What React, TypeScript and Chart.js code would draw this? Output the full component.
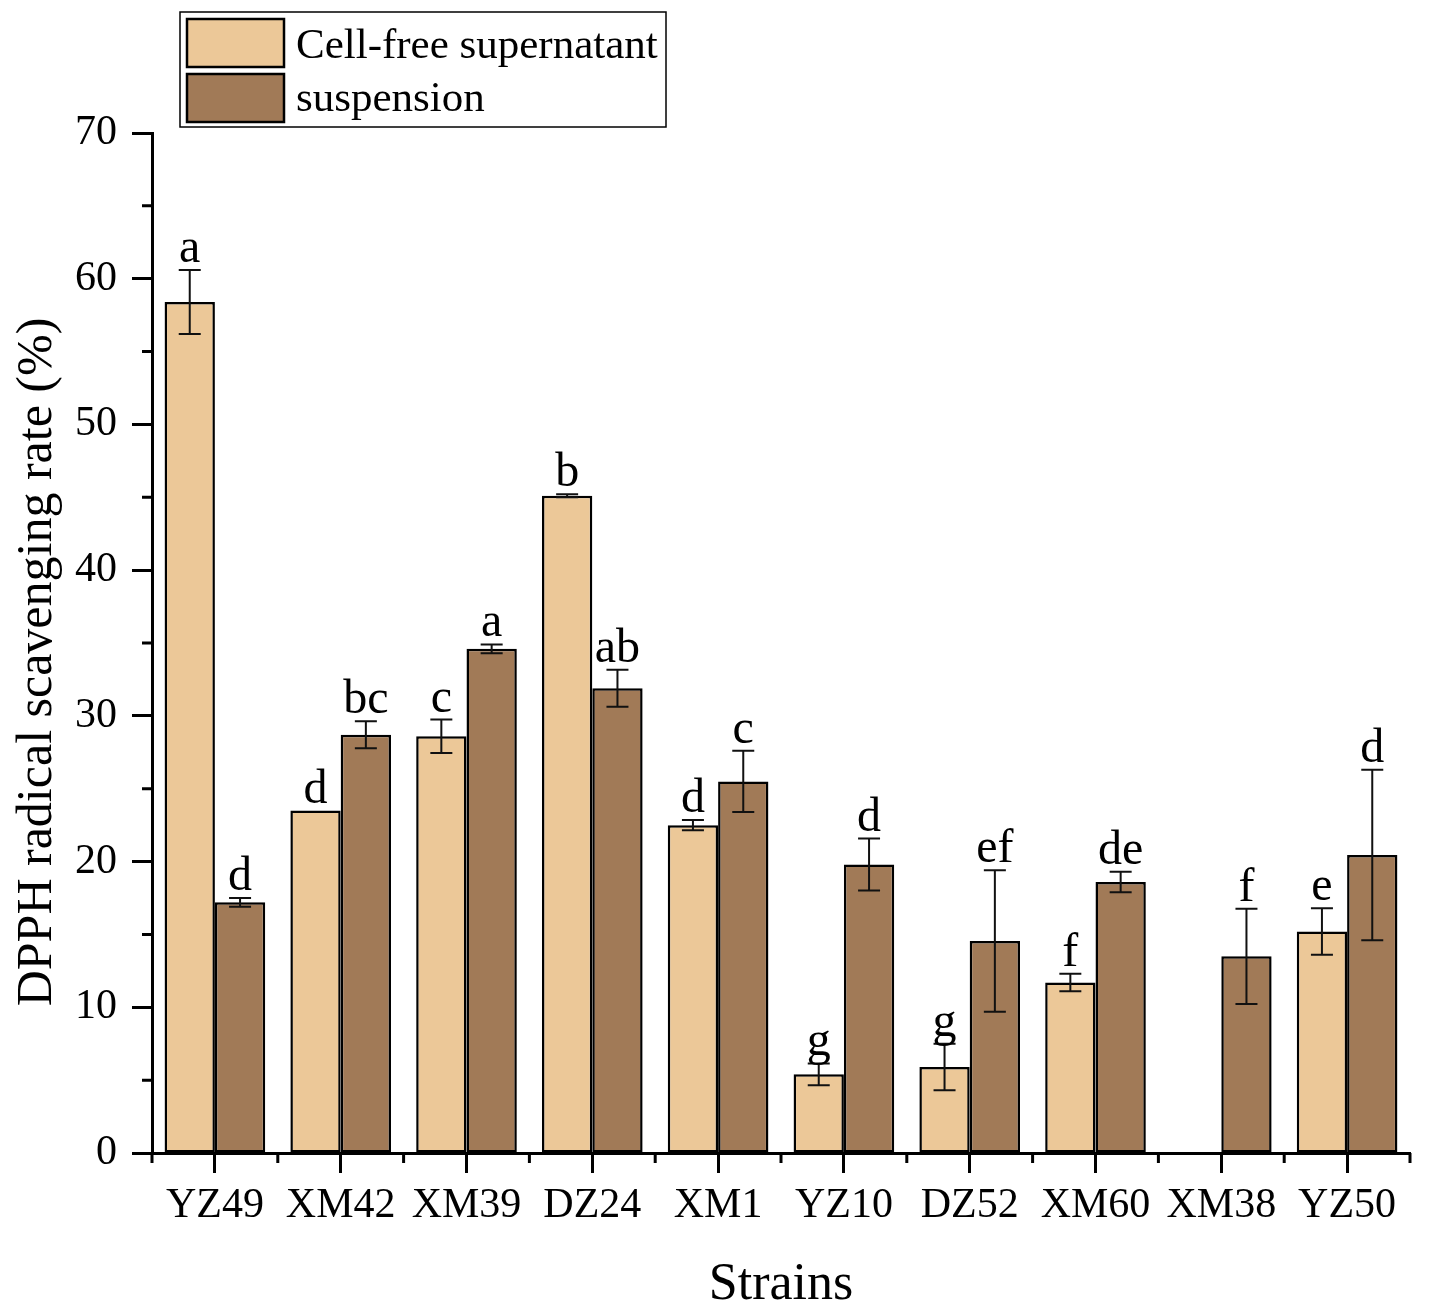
import React, { useEffect, useRef } from 'react';
import { Chart, registerables } from 'chart.js';

Chart.register(...registerables);

const strains = ['YZ49', 'XM42', 'XM39', 'DZ24', 'XM1', 'YZ10', 'DZ52', 'XM60', 'XM38', 'YZ50'];

const cfsMeans = [58.4, 23.5, 28.6, 45.1, 22.5, 5.4, 5.9, 11.7, 0, 15.2];
const cfsErrors = [2.2, 0, 1.15, 0.1, 0.35, 0.75, 1.6, 0.6, 0, 1.6];
const cfsLetters = ['a', 'd', 'c', 'b', 'd', 'g', 'g', 'f', '', 'e'];

const suspMeans = [17.2, 28.7, 34.6, 31.9, 25.5, 19.8, 14.55, 18.6, 13.5, 20.45];
const suspErrors = [0.3, 0.93, 0.3, 1.27, 2.1, 1.78, 4.85, 0.7, 3.27, 5.85];
const suspLetters = ['d', 'bc', 'a', 'ab', 'c', 'd', 'ef', 'de', 'f', 'd'];

const yTicks = [0, 10, 20, 30, 40, 50, 60, 70];
const yMinorTicks = [5, 15, 25, 35, 45, 55, 65];
const yTitle = 'DPPH radical scavenging rate (%)';

const errors = [cfsErrors, suspErrors];
const letters = [cfsLetters, suspLetters];

const SERIF = '"Liberation Serif", "Times New Roman", serif';

// error bars, significance letters, minor ticks, y title and the boxed legend
const extrasPlugin = {
  id: 'extras',
  afterDatasetsDraw(chart: any) {
    const { ctx, scales } = chart;
    const y = scales.y;
    ctx.save();
    chart.data.datasets.forEach((ds: any, di: number) => {
      const meta = chart.getDatasetMeta(di);
      meta.data.forEach((bar: any, i: number) => {
        const v = ds.data[i];
        if (!v) return;
        const e = errors[di][i];
        const cx = bar.x;
        const top = y.getPixelForValue(v + e);
        const bot = y.getPixelForValue(v - e);
        if (e > 0) {
          ctx.strokeStyle = '#111';
          ctx.lineWidth = 2;
          ctx.beginPath();
          ctx.moveTo(cx, top);
          ctx.lineTo(cx, bot);
          ctx.moveTo(cx - 11, top);
          ctx.lineTo(cx + 11, top);
          ctx.moveTo(cx - 11, bot);
          ctx.lineTo(cx + 11, bot);
          ctx.stroke();
        }
        const txt = letters[di][i];
        if (txt) {
          ctx.fillStyle = '#000';
          ctx.font = '48px ' + SERIF;
          ctx.textAlign = 'center';
          ctx.textBaseline = 'alphabetic';
          ctx.fillText(txt, cx, top - 8);
        }
      });
    });
    ctx.restore();
  },
  afterDraw(chart: any) {
    const { ctx, scales, chartArea } = chart;
    const x = scales.x;
    const y = scales.y;
    ctx.save();
    ctx.strokeStyle = '#000';
    ctx.lineWidth = 3;
    ctx.beginPath();
    yMinorTicks.forEach((t) => {
      const py = y.getPixelForValue(t);
      ctx.moveTo(chartArea.left, py);
      ctx.lineTo(chartArea.left - 10, py);
    });
    for (let i = 0; i <= strains.length; i++) {
      const px = x.getPixelForValue(i - 0.5);
      ctx.moveTo(px, chartArea.bottom);
      ctx.lineTo(px, chartArea.bottom + 10);
    }
    ctx.stroke();

    // y axis title, a little below the middle of the axis as in the figure
    ctx.save();
    ctx.translate(38, (chartArea.top + chartArea.bottom) / 2 + 19);
    ctx.rotate(-Math.PI / 2);
    ctx.fillStyle = '#000';
    ctx.font = '50px ' + SERIF;
    ctx.textAlign = 'center';
    ctx.textBaseline = 'middle';
    ctx.fillText(yTitle, 0, 0);
    ctx.restore();

    // legend
    ctx.lineWidth = 1.5;
    ctx.strokeRect(180, 12, 486, 115);
    chart.data.datasets.forEach((ds: any, di: number) => {
      const top = 19 + di * 55;
      ctx.fillStyle = ds.backgroundColor;
      ctx.fillRect(187, top, 97, 48);
      ctx.lineWidth = 2.5;
      ctx.strokeRect(187, top, 97, 48);
      ctx.fillStyle = '#000';
      ctx.font = '43px ' + SERIF;
      ctx.textAlign = 'left';
      ctx.textBaseline = 'alphabetic';
      ctx.fillText(ds.label, 296, 58 + di * 53);
    });
    ctx.restore();
  },
};

const App: React.FC = () => {
  const chartRef = useRef<HTMLCanvasElement>(null);
  const chartInstance = useRef<Chart>();

  useEffect(() => {
    if (chartRef.current) {
      chartInstance.current = new Chart(chartRef.current, {
        type: 'bar',
        data: {
          labels: strains,
          datasets: [
            {
              label: 'Cell-free supernatant',
              data: cfsMeans,
              backgroundColor: '#ecc898',
              borderColor: '#000',
              borderWidth: 2.5,
              borderSkipped: false,
            },
            {
              label: 'suspension',
              data: suspMeans,
              backgroundColor: '#a17a57',
              borderColor: '#000',
              borderWidth: 2.5,
              borderSkipped: false,
            },
          ],
        },
        options: {
          responsive: false,
          animation: false,
          devicePixelRatio: 1,
          layout: { padding: { top: 133, right: 19, left: 0, bottom: 0 } },
          datasets: { bar: { categoryPercentage: 0.8, barPercentage: 1 } },
          plugins: { legend: { display: false }, tooltip: { enabled: false } },
          scales: {
            x: {
              offset: true,
              afterFit: (s: any) => {
                s.height = 161;
              },
              border: { color: '#000', width: 3 },
              grid: {
                offset: false,
                drawOnChartArea: false,
                tickLength: 20,
                tickWidth: 3,
                tickColor: '#000',
              },
              ticks: { color: '#000', padding: 8, font: { family: SERIF, size: 42 } },
              title: {
                display: true,
                text: 'Strains',
                color: '#000',
                font: { family: SERIF, size: 52, lineHeight: 1 },
                padding: { bottom: 3, top: 0 },
              },
            },
            y: {
              min: 0,
              max: 70,
              afterFit: (s: any) => {
                s.width = 152;
              },
              afterBuildTicks: (s: any) => {
                s.ticks = yTicks.map((v) => ({ value: v }));
              },
              border: { color: '#000', width: 3 },
              grid: {
                drawOnChartArea: false,
                tickLength: 20,
                tickWidth: 3,
                tickColor: '#000',
              },
              ticks: { color: '#000', padding: 15, font: { family: SERIF, size: 42 } },
              title: { display: false },
            },
          },
        },
        plugins: [extrasPlugin],
      } as any);
    }

    return () => {
      if (chartInstance.current) {
        chartInstance.current.destroy();
      }
    };
  }, []);

  return (
    <div style={{ position: 'absolute', left: 0, top: 0, width: 1429, height: 1314, background: '#fff' }}>
      <canvas ref={chartRef} width={1429} height={1314} />
    </div>
  );
};

export default App;
